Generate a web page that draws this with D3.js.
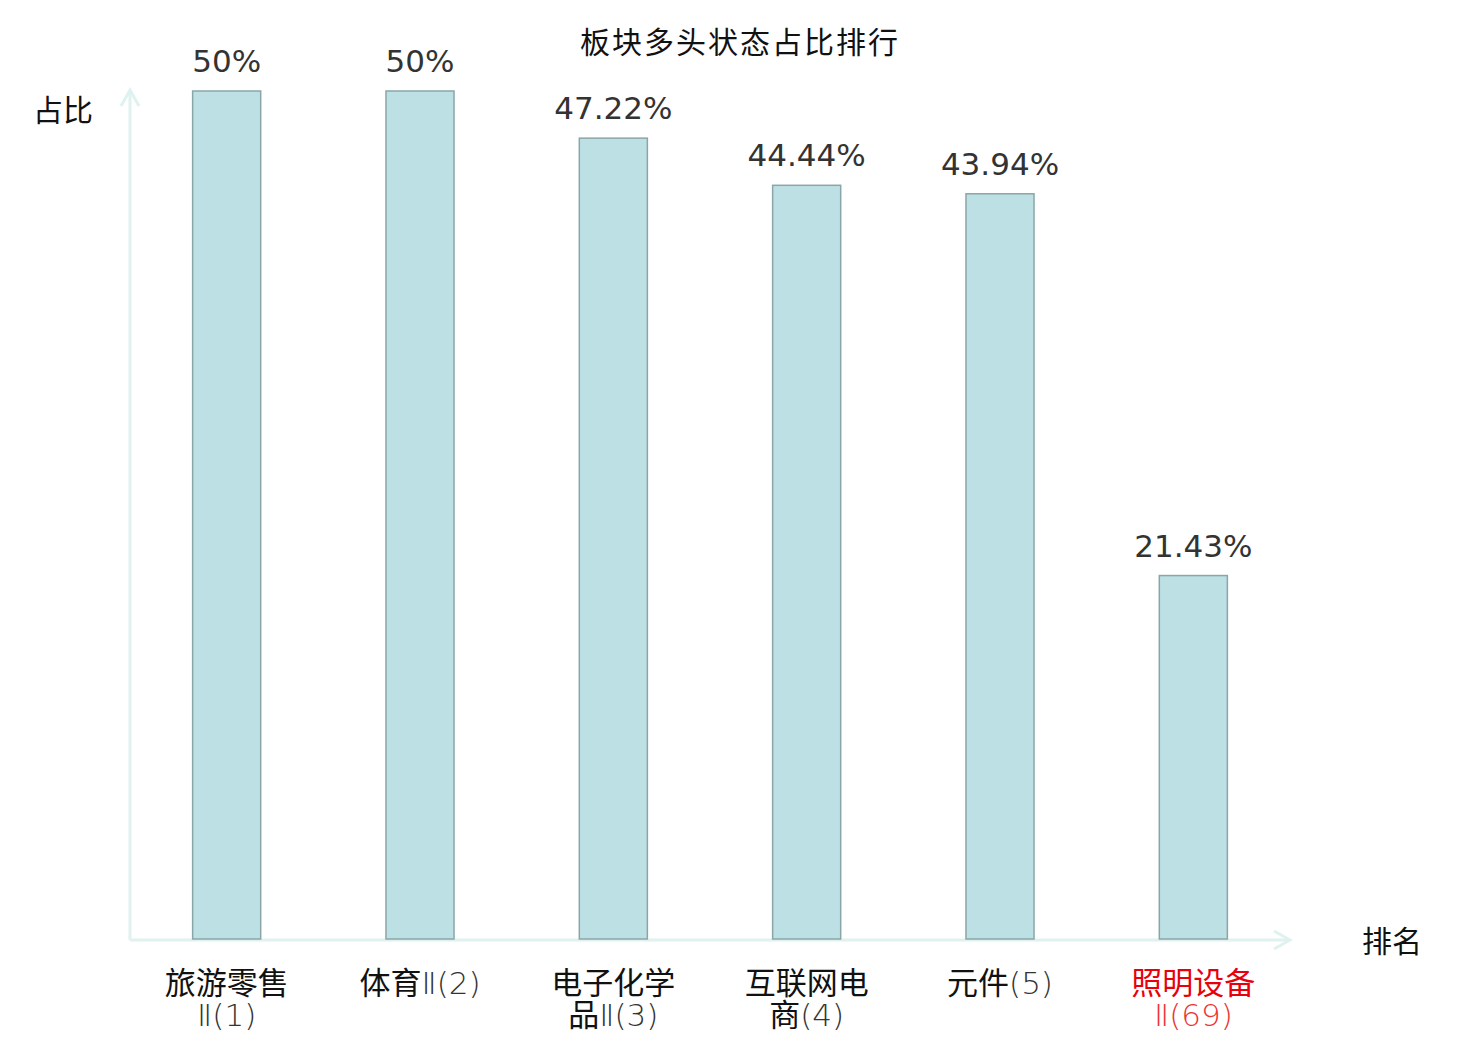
<!DOCTYPE html>
<html>
<head>
<meta charset="utf-8">
<script src="https://cdn.jsdelivr.net/npm/d3@7"></script>
<style>
  body { margin: 0; background: #fff; }
  text { font-family: "DejaVu Sans", "Noto Sans CJK SC", sans-serif; }
</style>
</head>
<body>
<div id="chart"></div>
<script>
// data
const categories = ["旅游零售Ⅱ(1)", "体育Ⅱ(2)", "电子化学品Ⅱ(3)", "互联网电商(4)", "元件(5)", "照明设备Ⅱ(69)"];
const values = [50, 50, 47.22, 44.44, 43.94, 21.43];
const valueLabels = ["50%", "50%", "47.22%", "44.44%", "43.94%", "21.43%"];
const highlight = [false, false, false, false, false, true];

const W = 1480, H = 1040;
const x0 = 130, x1 = 1290, yBase = 940, yTop = 91;

const svg = d3.select("#chart")
  .append("svg")
    .attr("width", W)
    .attr("height", H);

// scales
const x = d3.scaleBand()
  .domain(categories)
  .range([x0, x1])
  .paddingInner(0.648)
  .paddingOuter(0.324);

const y = d3.scaleLinear()
  .domain([0, 50])
  .range([yBase - 1, yTop]);

// axes (arrow lines)
const axisColor = "#dff2f0";
svg.append("line")
  .attr("x1", x0).attr("y1", yBase).attr("x2", x0).attr("y2", 90)
  .attr("stroke", axisColor).attr("stroke-width", 3);
svg.append("path")
  .attr("d", `M${x0 - 9},${106} L${x0},${90} L${x0 + 9},${106}`)
  .attr("fill", "none").attr("stroke", axisColor).attr("stroke-width", 3);

svg.append("line")
  .attr("x1", x0).attr("y1", yBase).attr("x2", 1290).attr("y2", yBase)
  .attr("stroke", axisColor).attr("stroke-width", 3);
svg.append("path")
  .attr("d", `M${1274},${yBase - 9} L${1290},${yBase} L${1274},${yBase + 9}`)
  .attr("fill", "none").attr("stroke", axisColor).attr("stroke-width", 3);

// bars
svg.selectAll(".bar")
  .data(values)
  .enter()
  .append("rect")
    .attr("class", "bar")
    .attr("x", (d, i) => x(categories[i]))
    .attr("y", d => y(d))
    .attr("width", x.bandwidth())
    .attr("height", d => y(0) - y(d))
    .attr("fill", "#bce0e3")
    .attr("stroke", "#8ba6a8")
    .attr("stroke-width", 1.5);

// value labels
svg.selectAll(".val")
  .data(values)
  .enter()
  .append("text")
    .attr("class", "val")
    .attr("x", (d, i) => x(categories[i]) + x.bandwidth() / 2)
    .attr("y", d => y(d) - 19)
    .attr("text-anchor", "middle")
    .style("font-size", "31px")
    .style("fill", "#333")
    .text((d, i) => valueLabels[i]);

// category labels, wrapped every 4 characters; latin part drawn thinner
const isCJK = ch => /[\u4e00-\u9fff]/.test(ch);
categories.forEach((d, i) => {
  const lines = d.length > 7 ? [d.slice(0, 4), d.slice(4)] : [d];
  lines.forEach((ln, j) => {
    const t = svg.append("text")
      .attr("class", "cat")
      .attr("x", x(d) + x.bandwidth() / 2)
      .attr("y", 994 + j * 32)
      .attr("text-anchor", "middle")
      .style("font-family", "'Noto Sans CJK SC', sans-serif")
      .style("font-size", "31px")
      .style("fill", highlight[i] ? "#e8000b" : "#111");
    // split into runs of CJK / non-CJK
    const runs = [];
    for (const ch of ln) {
      const c = isCJK(ch);
      if (runs.length && runs[runs.length - 1].c === c) runs[runs.length - 1].s += ch;
      else runs.push({c: c, s: ch});
    }
    runs.forEach(r => {
      t.append("tspan")
        .style("font-family", r.c ? null : "'DejaVu Sans', sans-serif")
        .style("font-weight", r.c ? 400 : 200)
        .style("fill", r.c ? null : (highlight[i] ? "#ee3333" : "#333"))
        .text(r.s);
    });
  });
});

// title
svg.append("text")
  .attr("x", 740)
  .attr("y", 53)
  .attr("text-anchor", "middle")
  .style("font-family", "'Noto Sans CJK SC', sans-serif")
  .style("font-size", "30px")
  .style("letter-spacing", "2px")
  .style("fill", "#111")
  .text("板块多头状态占比排行");

// axis titles
svg.append("text")
  .attr("x", 63)
  .attr("y", 121)
  .attr("text-anchor", "middle")
  .style("font-family", "'Noto Sans CJK SC', sans-serif")
  .style("font-size", "30px")
  .style("fill", "#111")
  .text("占比");

svg.append("text")
  .attr("x", 1392)
  .attr("y", 952)
  .attr("text-anchor", "middle")
  .style("font-family", "'Noto Sans CJK SC', sans-serif")
  .style("font-size", "30px")
  .style("fill", "#111")
  .text("排名");
</script>
</body>
</html>
